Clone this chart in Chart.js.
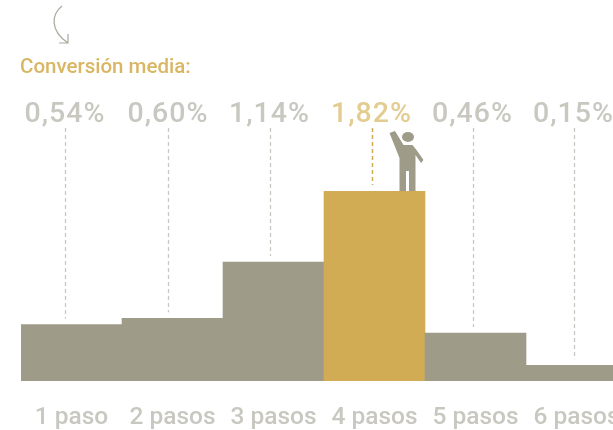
<!DOCTYPE html>
<html>
<head>
<meta charset="utf-8">
<script src="https://cdn.jsdelivr.net/npm/chart.js@4"></script>
<style>
  html, body { margin: 0; background: #fff; overflow: hidden; }
  #wrap { width: 613px; height: 430px; overflow: hidden; }
  canvas { display: block; }
</style>
</head>
<body>
<div id="wrap"><canvas id="stepsChart" width="640" height="430"></canvas></div>
<script>
const categories = ["1 paso", "2 pasos", "3 pasos", "4 pasos", "5 pasos", "6 pasos"];
const conversion = [0.54, 0.60, 1.14, 1.82, 0.46, 0.15];
const highlighted = "4 pasos";
const title = "Conversión media:";

const GREY = "#9e9b89";
const GOLD = "#d2ac55";
const LABEL_GREY = "#c8c8c0";
const LABEL_GOLD = "#e2cc90";
const FONT = "Roboto, sans-serif";
// the percent labels sit a bit left of their bars in the original
const labelShift = [-6.5, -4.5, -4, -3, -3, -3];

function formatPct(v) {
  return v.toFixed(2).replace(".", ",") + "%";
}

function drawPerson(ctx, bar) {
  // little figure stands on the highlighted bar, waving
  const x = bar.x;
  const y = bar.y;
  ctx.fillStyle = GREY;
  ctx.beginPath();
  ctx.ellipse(x + 33.5, y - 54, 6, 5, 0, 0, Math.PI * 2);
  ctx.fill();
  ctx.beginPath();
  const body = [
    [15, -58], [20.5, -60], [29, -46], [38, -46], [42, -41], [49, -31], [46.5, -28],
    [41, -36], [41, 0], [34.5, 0], [34.5, -20], [31.5, -20], [31.5, 0], [25, 0], [25, -33]
  ];
  body.forEach(([dx, dy], i) => {
    if (i === 0) ctx.moveTo(x + dx, y + dy);
    else ctx.lineTo(x + dx, y + dy);
  });
  ctx.closePath();
  ctx.fill();
}

function drawArrow(ctx) {
  ctx.strokeStyle = "#a9a99f";
  ctx.lineWidth = 1.2;
  ctx.beginPath();
  ctx.moveTo(62, 6);
  ctx.bezierCurveTo(52, 14, 49, 30, 68, 43);
  ctx.moveTo(68, 34);
  ctx.lineTo(68, 43);
  ctx.lineTo(59, 43);
  ctx.stroke();
}

const annotations = {
  id: "annotations",
  afterDatasetsDraw(chart) {
    const ctx = chart.ctx;
    const bars = chart.getDatasetMeta(0).data;
    ctx.save();

    drawArrow(ctx);

    ctx.fillStyle = "#d9b663";
    ctx.font = "500 20.5px " + FONT;
    ctx.textAlign = "left";
    ctx.textBaseline = "middle";
    ctx.fillText(title, 20, 68);

    bars.forEach((bar, i) => {
      const on = categories[i] === highlighted;
      const x = bar.x + labelShift[i];
      ctx.fillStyle = on ? LABEL_GOLD : LABEL_GREY;
      ctx.font = "500 28.5px " + FONT;
      ctx.letterSpacing = "1px";
      ctx.textAlign = "center";
      ctx.textBaseline = "middle";
      ctx.fillText(formatPct(conversion[i]), x, 115);
      ctx.letterSpacing = "0px";

      ctx.strokeStyle = on ? GOLD : "#c9c9c2";
      ctx.lineWidth = on ? 1.5 : 1.3;
      ctx.setLineDash([4, 3]);
      ctx.beginPath();
      ctx.moveTo(Math.round(x) + 0.5, 128);
      ctx.lineTo(Math.round(x) + 0.5, bar.y - 6);
      ctx.stroke();
      ctx.setLineDash([]);

      if (on) drawPerson(ctx, bar);
    });
    ctx.restore();
  }
};

new Chart(document.getElementById("stepsChart").getContext("2d"), {
  type: "bar",
  data: {
    labels: categories,
    datasets: [{
      data: conversion,
      backgroundColor: categories.map(c => c === highlighted ? GOLD : GREY),
      barPercentage: 1,
      categoryPercentage: 1,
      borderWidth: 0
    }]
  },
  options: {
    responsive: false,
    animation: false,
    layout: { padding: { left: 21, right: 13, top: 191, bottom: 0 } },
    plugins: { legend: { display: false }, tooltip: { enabled: false } },
    scales: {
      x: {
        grid: { display: false, drawTicks: false },
        border: { display: false },
        ticks: {
          color: LABEL_GREY,
          font: { family: FONT, size: 24.5, weight: "500" },
          maxRotation: 0,
          autoSkip: false,
          padding: 22
        },
        afterFit(scale) {
          scale.height = 49;
          scale.paddingLeft = 0;
          scale.paddingRight = 0;
        }
      },
      y: { display: false, min: 0, max: 1.82 }
    }
  },
  plugins: [annotations]
});
</script>
</body>
</html>
